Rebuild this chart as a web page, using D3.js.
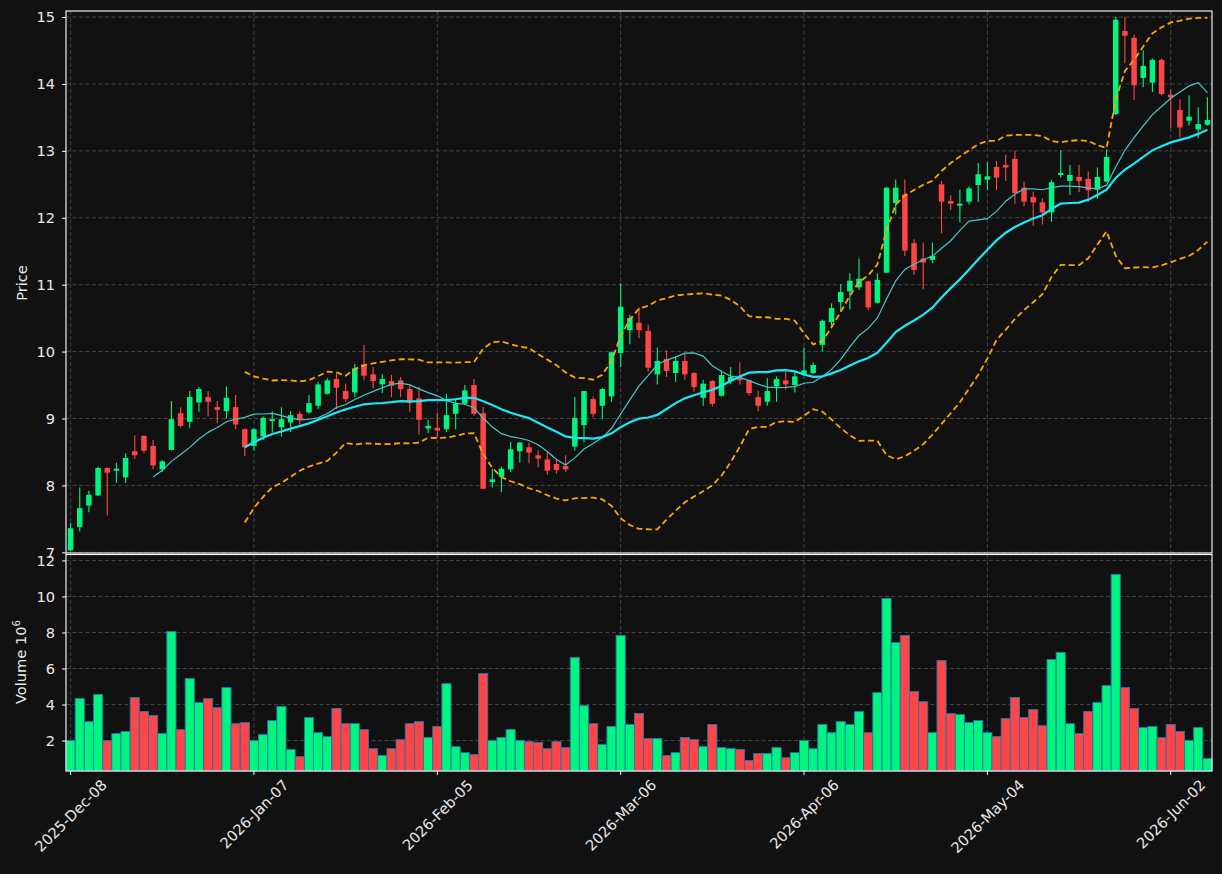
<!DOCTYPE html>
<html><head><meta charset="utf-8">
<script src="https://cdn.jsdelivr.net/npm/d3@7"></script>
<style>html,body{margin:0;padding:0;background:#111111;} svg{display:block;}</style>
</head><body><svg id="c" width="1222" height="874"></svg>
<script>
const opens = [7.03,7.38,7.70,7.85,8.26,8.22,8.12,8.51,8.74,8.59,8.24,8.53,9.08,8.95,9.24,9.32,9.17,9.11,9.17,8.84,
8.59,8.73,8.96,8.87,8.94,9.07,9.09,9.19,9.37,9.59,9.41,9.39,9.81,9.66,9.51,9.56,9.57,9.44,9.30,8.85,
8.86,8.84,9.07,9.22,9.50,9.08,8.05,8.13,8.24,8.51,8.57,8.45,8.39,8.32,8.29,8.58,8.90,9.29,9.19,9.33,
9.98,10.32,10.43,10.31,9.66,9.89,9.68,9.86,9.68,9.31,9.56,9.34,9.56,9.61,9.57,9.32,9.25,9.48,9.57,9.50,
9.65,9.68,10.10,10.44,10.74,10.90,10.96,11.05,10.73,11.18,12.22,12.35,11.62,11.39,11.37,12.50,12.25,12.18,12.24,12.49,
12.57,12.76,12.79,12.88,12.45,12.31,12.23,12.08,12.64,12.55,12.61,12.58,12.42,12.54,13.55,14.79,14.69,14.09,14.02,14.36,
13.84,13.61,13.45,13.32,13.39];
const highs = [7.44,7.97,7.92,8.28,8.27,8.34,8.48,8.75,8.75,8.68,8.38,9.26,9.17,9.41,9.47,9.41,9.26,9.48,9.35,8.85,
8.85,9.03,9.11,9.17,9.11,9.11,9.35,9.55,9.60,9.67,9.52,9.82,10.10,9.77,9.66,9.65,9.62,9.52,9.47,8.98,
9.09,9.37,9.30,9.50,9.59,9.18,8.25,8.28,8.65,8.65,8.64,8.52,8.50,8.38,8.45,9.32,9.41,9.33,9.46,10.00,
11.02,10.55,10.66,10.40,10.06,10.02,9.93,9.97,9.69,9.58,9.58,9.72,9.77,9.84,9.58,9.41,9.60,9.63,9.70,9.71,
10.06,9.84,10.48,10.72,11.01,11.17,11.39,11.06,11.17,12.46,12.57,12.57,11.68,11.63,11.63,12.55,12.34,12.42,12.47,12.82,
12.83,12.85,12.94,13.00,12.54,12.39,12.29,12.56,13.01,12.79,12.79,12.69,12.75,13.02,15.00,15.00,14.73,14.50,14.38,14.38,
13.92,13.77,13.83,13.65,13.80];
const lows = [7.02,7.31,7.60,7.84,7.55,8.04,8.04,8.40,8.48,8.24,8.20,8.52,8.87,8.86,9.10,9.03,8.93,9.00,8.84,8.44,
8.52,8.68,8.79,8.73,8.80,8.90,9.07,9.14,9.36,9.14,9.25,9.32,9.57,9.45,9.38,9.32,9.32,9.10,8.76,8.78,
8.72,8.80,8.84,9.21,9.04,7.95,7.97,7.90,8.20,8.34,8.33,8.27,8.16,8.18,8.20,8.52,8.64,9.02,8.99,9.25,
9.77,10.11,10.20,9.70,9.51,9.62,9.55,9.58,9.40,9.19,9.18,9.33,9.52,9.51,9.34,9.11,9.19,9.25,9.43,9.39,
9.63,9.67,10.00,10.38,10.60,10.63,10.92,10.62,10.72,11.17,12.05,11.43,11.15,10.93,11.32,11.77,12.12,11.93,12.20,12.24,
12.42,12.41,12.55,12.21,12.17,11.88,11.90,11.94,12.60,12.34,12.38,12.23,12.28,12.53,13.54,14.31,13.76,13.95,13.88,13.83,
13.34,13.20,13.38,13.19,13.38];
const closes = [7.36,7.66,7.86,8.26,8.19,8.25,8.41,8.45,8.52,8.30,8.36,8.99,8.89,9.32,9.44,9.25,9.13,9.31,8.91,8.57,
8.84,9.01,8.99,8.99,9.05,8.99,9.23,9.51,9.57,9.46,9.29,9.75,9.64,9.56,9.59,9.49,9.44,9.23,8.98,8.89,
8.82,9.05,9.22,9.42,9.07,7.95,8.09,8.25,8.54,8.64,8.49,8.40,8.22,8.23,8.24,9.01,9.41,9.07,9.44,9.99,
10.67,10.50,10.32,9.76,9.86,9.71,9.86,9.66,9.47,9.52,9.22,9.65,9.62,9.57,9.38,9.19,9.41,9.59,9.51,9.63,
9.72,9.80,10.46,10.65,10.89,11.06,11.09,10.66,11.07,12.45,12.45,11.51,11.22,11.33,11.43,12.24,12.21,12.21,12.44,12.65,
12.62,12.60,12.75,12.37,12.24,12.23,12.08,12.53,12.67,12.64,12.55,12.41,12.61,12.91,14.96,14.72,13.98,14.27,14.36,13.85,
13.80,13.35,13.51,13.40,13.46];
const volumes = [2.00,4.33,3.05,4.56,2.00,2.39,2.50,4.39,3.61,3.39,2.39,8.05,2.61,5.44,4.11,4.33,3.83,4.94,2.94,3.00,
2.00,2.33,3.11,3.89,1.50,1.11,3.28,2.44,2.22,3.78,2.94,2.94,2.61,1.55,1.17,1.55,2.05,2.94,3.05,2.17,
2.78,5.16,1.66,1.33,1.22,5.72,2.00,2.17,2.61,2.00,1.94,1.89,1.55,1.94,1.61,6.61,3.94,2.94,1.78,2.78,
7.83,2.89,3.50,2.11,2.11,1.17,1.33,2.17,2.05,1.66,2.89,1.61,1.55,1.50,0.89,1.28,1.28,1.61,1.05,1.33,
2.00,1.55,2.89,2.44,3.05,2.89,3.61,2.44,4.66,9.89,7.44,7.83,4.72,4.16,2.44,6.44,3.50,3.44,3.00,3.11,
2.44,2.22,3.22,4.39,3.28,3.72,2.83,6.50,6.89,2.94,2.39,3.61,4.11,5.05,11.22,4.94,3.78,2.72,2.78,2.17,
2.89,2.50,2.00,2.72,1.00];
const tickIndex = [0,20,40,60,80,100,120];
const tickLabels = ["2025-Dec-08","2026-Jan-07","2026-Feb-05","2026-Mar-06","2026-Apr-06","2026-May-04","2026-Jun-02"];
const priceTicks = [7,8,9,10,11,12,13,14,15];
const volumeTicks = [2,4,6,8,10,12];
const maShort = 10, maLong = 20, bandK = 2;

const UP = '#00f57f', DOWN = '#ff4545', TXT = '#e8e8e8', GRID = '#444444';
const FONT = 'DejaVu Sans, sans-serif', FS = 14.6;
const svg = d3.select('#c');
const n = closes.length;
const L = 66, R = 1212;
const x = d3.scaleLinear().domain([-0.5, n - 0.5]).range([L, R]);
const step = x(1) - x(0);
const yP = d3.scaleLinear().domain([6.99, 15.09]).range([553, 11]);
const yV = d3.scaleLinear().domain([0.31, 12.33]).range([771, 554.5]);

function grid(yScale, ticks, top, bottom) {
  const g = svg.append('g');
  ticks.forEach(t => g.append('line').attr('x1', L).attr('x2', R).attr('y1', yScale(t)).attr('y2', yScale(t))
    .attr('stroke', GRID).attr('stroke-width', 1).attr('stroke-dasharray', '4,2.5'));
  tickIndex.forEach(t => g.append('line').attr('x1', x(t)).attr('x2', x(t)).attr('y1', top).attr('y2', bottom)
    .attr('stroke', GRID).attr('stroke-width', 1).attr('stroke-dasharray', '4,2.5'));
}
grid(yP, priceTicks, 11, 553);
grid(yV, volumeTicks, 554.5, 771);

// moving averages
function rolling(w, f) {
  return closes.map((_, i) => i < w - 1 ? null : f(closes.slice(i - w + 1, i + 1)));
}
const ma10 = rolling(maShort, a => d3.mean(a));
const ma20 = rolling(maLong, a => d3.mean(a));
const sd20 = rolling(maLong, a => { const m = d3.mean(a); return Math.sqrt(d3.mean(a, v => (v - m) * (v - m))); });
const upper = ma20.map((m, i) => m === null ? null : m + bandK * sd20[i]);
const lower = ma20.map((m, i) => m === null ? null : m - bandK * sd20[i]);

svg.append('clipPath').attr('id', 'cp').append('rect').attr('x', L).attr('y', 11).attr('width', R - L).attr('height', 542);
const pg = svg.append('g').attr('clip-path', 'url(#cp)');

// candles
const idx = d3.range(n);
const cg = pg.append('g');
idx.forEach(i => {
  const col = closes[i] >= opens[i] ? UP : DOWN;
  cg.append('line').attr('x1', x(i)).attr('x2', x(i)).attr('y1', yP(highs[i])).attr('y2', yP(lows[i]))
    .attr('stroke', col).attr('stroke-width', 1.1);
  const y1 = yP(Math.max(opens[i], closes[i])), y2 = yP(Math.min(opens[i], closes[i]));
  cg.append('rect').attr('x', x(i) - step * 0.3).attr('width', step * 0.6)
    .attr('y', y1).attr('height', Math.max(1, y2 - y1)).attr('fill', col);
});

const line = d3.line().defined(d => d[1] !== null).x(d => x(d[0])).y(d => yP(d[1]));
const pts = arr => arr.map((v, i) => [i, v]);
pg.append('path').attr('d', line(pts(ma10))).attr('fill', 'none').attr('stroke', '#46c8c8').attr('stroke-width', 1.2);
pg.append('path').attr('d', line(pts(ma20))).attr('fill', 'none').attr('stroke', '#1ae8f5').attr('stroke-width', 2.2);
[upper, lower].forEach(b => pg.append('path').attr('d', line(pts(b))).attr('fill', 'none')
  .attr('stroke', '#ffa500').attr('stroke-width', 1.8).attr('stroke-dasharray', '6,3.5'));

// volume
const vg = svg.append('g');
idx.forEach(i => {
  const col = closes[i] >= opens[i] ? UP : DOWN;
  vg.append('rect').attr('x', x(i) - step / 2).attr('width', step)
    .attr('y', yV(volumes[i])).attr('height', 771 - yV(volumes[i]))
    .attr('fill', col).attr('stroke', '#1f77b4').attr('stroke-width', 0.9);
});

// frames
function frame(top, bottom) {
  svg.append('rect').attr('x', L).attr('y', top).attr('width', R - L).attr('height', bottom - top)
    .attr('fill', 'none').attr('stroke', '#ffffff').attr('stroke-width', 1.1);
}
frame(11, 553);
frame(554.5, 771);

// y axes
function yAxis(scale, ticks) {
  const g = svg.append('g').attr('transform', `translate(${L},0)`)
    .call(d3.axisLeft(scale).tickValues(ticks).tickSize(4).tickPadding(7).tickFormat(d3.format('d')));
  g.select('.domain').remove();
  g.selectAll('line').attr('stroke', '#ffffff').attr('stroke-width', 1);
  g.selectAll('text').attr('fill', TXT).attr('font-family', FONT).attr('font-size', FS);
}
yAxis(yP, priceTicks);
yAxis(yV, volumeTicks);

// x ticks
tickIndex.forEach((t, k) => {
  svg.append('line').attr('x1', x(t)).attr('x2', x(t)).attr('y1', 771).attr('y2', 775)
    .attr('stroke', '#ffffff').attr('stroke-width', 1);
  const tx = svg.append('text').text(tickLabels[k]).attr('fill', TXT).attr('font-family', FONT)
    .attr('font-size', FS).attr('text-anchor', 'end').attr('dominant-baseline', 'central');
  const len = tx.node().getComputedTextLength();
  const c = Math.SQRT1_2;
  const px = x(t) + c * len / 2, py = 777 + c * FS / 2;
  tx.attr('transform', `translate(${px},${py}) rotate(-45)`);
});

// axis titles
svg.append('text').text('Price').attr('transform', 'translate(27,283) rotate(-90)')
  .attr('text-anchor', 'middle').attr('fill', TXT).attr('font-family', FONT).attr('font-size', FS);
const vt = svg.append('text').attr('transform', 'translate(26,662) rotate(-90)')
  .attr('text-anchor', 'middle').attr('fill', TXT).attr('font-family', FONT).attr('font-size', FS);
vt.append('tspan').text('Volume  10');
vt.append('tspan').text('6').attr('font-size', FS * 0.7).attr('dy', -6);
</script></body></html>
